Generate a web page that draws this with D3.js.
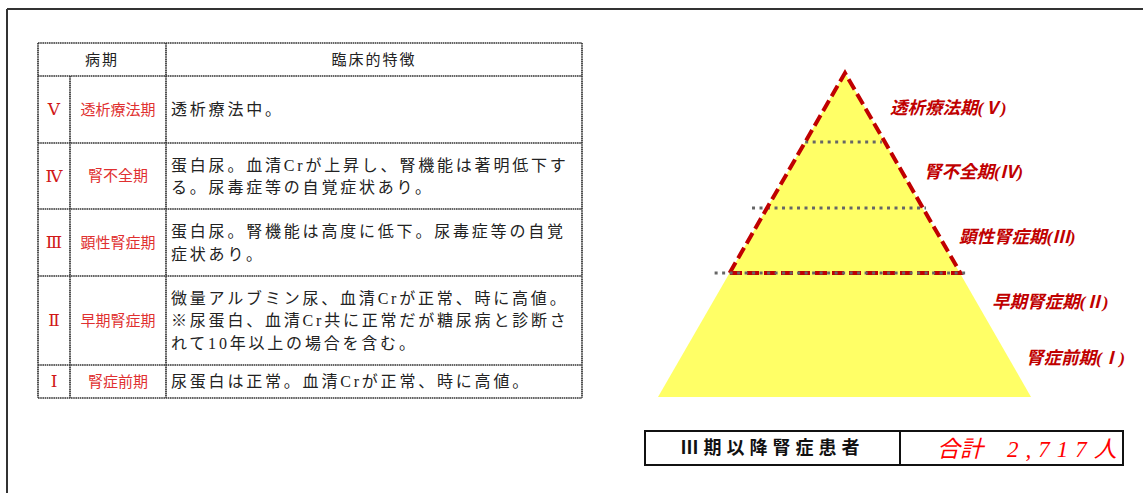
<!DOCTYPE html>
<html><head><meta charset="utf-8">
<script src="https://cdn.jsdelivr.net/npm/d3@7"></script>
<style>
html,body{margin:0;padding:0;background:#fff;}
svg{display:block;}
</style></head>
<body>
<svg id="c" width="1143" height="493"></svg>
<script>
// ---- data ----
const romans = ["Ⅴ", "Ⅳ", "Ⅲ", "Ⅱ", "Ⅰ"];
const stageNames = ["透析療法期", "腎不全期", "顕性腎症期", "早期腎症期", "腎症前期"];
const descriptions = [
  ["透析療法中。"],
  ["蛋白尿。血清Crが上昇し、腎機能は著明低下す", "る。尿毒症等の自覚症状あり。"],
  ["蛋白尿。腎機能は高度に低下。尿毒症等の自覚", "症状あり。"],
  ["微量アルブミン尿、血清Crが正常、時に高値。", "※尿蛋白、血清Cr共に正常だが糖尿病と診断さ", "れて10年以上の場合を含む。"],
  ["尿蛋白は正常。血清Crが正常、時に高値。"]
];
const headers = ["病期", "臨床的特徴"];
const pyramidLabels = ["透析療法期(Ⅴ)", "腎不全期(Ⅳ)", "顕性腎症期(Ⅲ)", "早期腎症期(Ⅱ)", "腎症前期(Ⅰ)"];
const levelBounds = [0, 0.213, 0.417, 0.617, 1]; // fraction of pyramid height (top → base)
const totalLabel = "Ⅲ期以降腎症患者";
const totalPrefix = "合計";
const totalPatients = 2717;
const totalUnit = "人";

// ---- layout ----
const svg = d3.select("#c");
const serif = "'Liberation Serif','DejaVu Serif','Noto Sans CJK JP',serif";
const cjk = "'Liberation Serif','Noto Sans CJK JP',sans-serif";

// outer frame
svg.append("line").attr("x1",7).attr("x2",1143).attr("y1",9).attr("y2",9).attr("stroke","#333").attr("stroke-width",2);
svg.append("line").attr("x1",7).attr("x2",7).attr("y1",9).attr("y2",493).attr("stroke","#333").attr("stroke-width",2);

// ---- table ----
const tx0 = 38, tx1 = 582, colA = 70, colB = 166;
const headerTop = 43, headerBot = 76;
const rowHeights = [67, 66, 67, 89, 33];
const rowY = [headerBot];
rowHeights.forEach((h,i)=>rowY.push(rowY[i]+h));
const tableBot = rowY[rowY.length-1];
const tg = svg.append("g");
const borderStyle = s => s.attr("stroke","#333").attr("stroke-width",1.7).attr("stroke-dasharray","1.6,0.6").attr("fill","none");

[headerTop, ...rowY].forEach(y=>{
  tg.append("line").attr("x1",tx0).attr("x2",tx1).attr("y1",y).attr("y2",y).call(borderStyle);
});
[tx0, colB, tx1].forEach(x=>{
  tg.append("line").attr("x1",x).attr("x2",x).attr("y1",headerTop).attr("y2",tableBot).call(borderStyle);
});
tg.append("line").attr("x1",colA).attr("x2",colA).attr("y1",headerBot).attr("y2",tableBot).call(borderStyle);

tg.append("text").attr("x",(tx0+colB)/2).attr("y",(headerTop+headerBot)/2).attr("dy","0.35em")
  .attr("text-anchor","middle").attr("font-family",cjk).attr("font-size",15).attr("letter-spacing",2).attr("fill","#222").text(headers[0]);
tg.append("text").attr("x",(colB+tx1)/2).attr("y",(headerTop+headerBot)/2).attr("dy","0.35em")
  .attr("text-anchor","middle").attr("font-family",cjk).attr("font-size",15).attr("letter-spacing",2).attr("fill","#222").text(headers[1]);

romans.forEach((r,i)=>{
  const cy = (rowY[i]+rowY[i+1])/2;
  tg.append("text").attr("x",(tx0+colA)/2).attr("y",cy).attr("dy","0.35em").attr("text-anchor","middle")
    .attr("font-family","'DejaVu Serif',serif").attr("font-size",17).attr("fill","#d01818").text(r);
  tg.append("text").attr("x",(colA+colB)/2).attr("y",cy).attr("dy","0.35em").attr("text-anchor","middle")
    .attr("font-family",cjk).attr("font-size",15).attr("fill","#e03030").text(stageNames[i]);
  const lines = descriptions[i];
  const lh = 22.5;
  lines.forEach((t,j)=>{
    tg.append("text").attr("x",colB+5).attr("y",cy + (j-(lines.length-1)/2)*lh).attr("dy","0.36em")
      .attr("font-family",cjk).attr("font-size",16).attr("letter-spacing",2.8).attr("fill","#222").text(t);
  });
});

// ---- pyramid ----
const apexX = 845, halfBase = 187;
const yS = d3.scaleLinear().domain([0,1]).range([73,397]);
const wS = d3.scaleLinear().domain([0,1]).range([0,halfBase]);
const pg = svg.append("g");
pg.append("path")
  .attr("d", d3.line()([[apexX, yS(0)],[apexX+wS(1)-1, yS(1)],[apexX-wS(1), yS(1)]]) + "Z")
  .attr("fill","#ffff66");
const ext = [[0,0],[0,-3],[15,3],[15,8]];
levelBounds.slice(1,3).forEach((f,i)=>{
  const y = yS(f), w = wS(f), e = ext[i+1];
  pg.append("line").attr("x1",apexX-w-e[0]).attr("x2",apexX+w+e[1]).attr("y1",y).attr("y2",y)
    .attr("stroke","#666").attr("stroke-width",3).attr("stroke-dasharray","3,4.5");
});
const fIII = levelBounds[3];
pg.append("path")
  .attr("d", d3.line()([[apexX-wS(fIII), yS(fIII)],[apexX, yS(0)],[apexX+wS(fIII), yS(fIII)],[apexX-wS(fIII), yS(fIII)]]))
  .attr("fill","none").attr("stroke","#c00000").attr("stroke-width",4).attr("stroke-dasharray","12,5");
pg.append("line").attr("x1",apexX-wS(fIII)-15).attr("x2",apexX+wS(fIII)+8).attr("y1",yS(fIII)).attr("y2",yS(fIII))
  .attr("stroke","#666").attr("stroke-width",3).attr("stroke-dasharray","3,4.5");

const labelY = [108, 172, 237, 302, 358];
const labelX = [890, 924, 959, 992, 1026];
pyramidLabels.forEach((t,i)=>{
  pg.append("text").attr("x",labelX[i]).attr("y",labelY[i]).attr("dy","0.35em")
    .attr("font-family",cjk).attr("font-size",17.5).attr("font-weight","bold").attr("font-style","italic")
    .attr("fill","#c00000").text(t);
});

// ---- total box ----
const bx0 = 645, bx1 = 1123, bmid = 900, by0 = 431, by1 = 465;
const bg = svg.append("g");
bg.append("rect").attr("x",bx0).attr("y",by0).attr("width",bx1-bx0).attr("height",by1-by0)
  .attr("fill","none").attr("stroke","#111").attr("stroke-width",2);
bg.append("line").attr("x1",bmid).attr("x2",bmid).attr("y1",by0).attr("y2",by1).attr("stroke","#111").attr("stroke-width",2);
bg.append("text").attr("x",(bx0+bmid)/2).attr("y",(by0+by1)/2).attr("dy","0.36em").attr("text-anchor","middle")
  .attr("font-family",cjk).attr("font-size",18).attr("font-weight","bold").attr("letter-spacing",5).attr("fill","#111")
  .text(totalLabel);
const tt = bg.append("text").attr("x",937).attr("y",(by0+by1)/2).attr("dy","0.38em")
  .attr("font-family",cjk).attr("font-size",23).attr("font-style","italic").attr("fill","#ff0000");
tt.append("tspan").text(totalPrefix);
tt.append("tspan").attr("x",1007).attr("letter-spacing",7).text(d3.format(",")(totalPatients));
tt.append("tspan").text(totalUnit);
</script>
</body></html>
